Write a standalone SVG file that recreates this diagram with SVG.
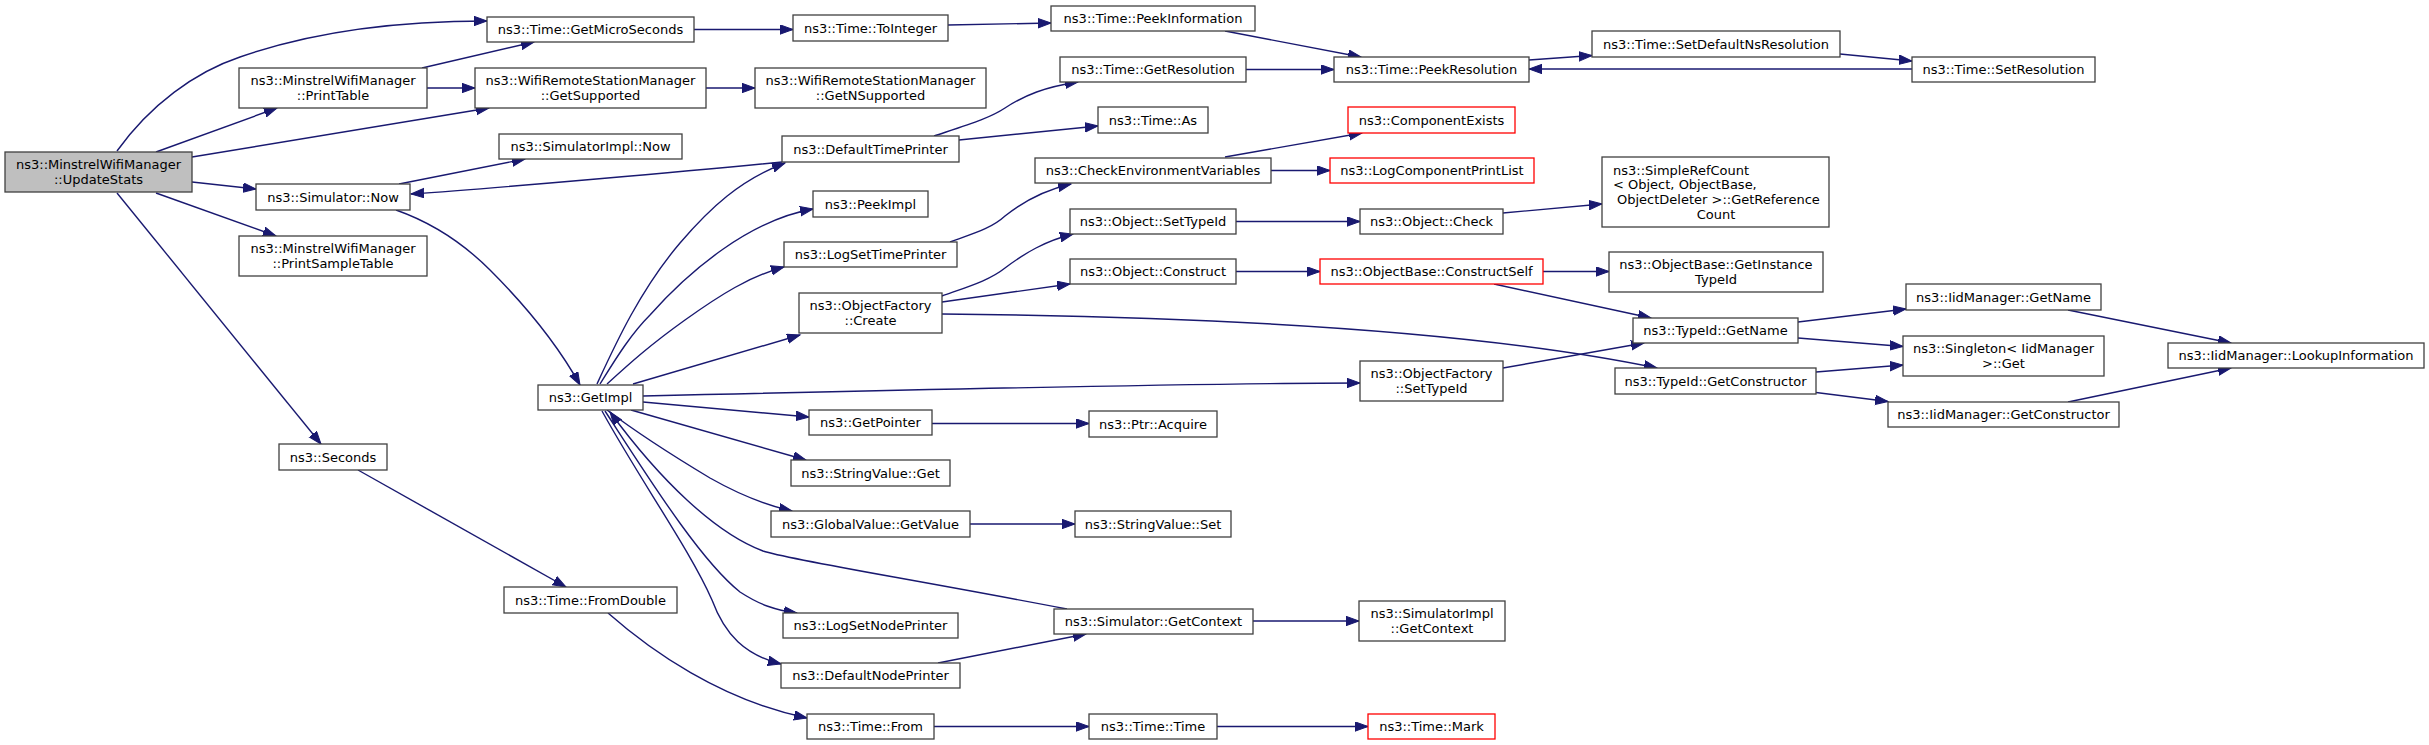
<svg xmlns="http://www.w3.org/2000/svg" width="2429" height="745" viewBox="0 0 2429 745">
<style>
.n rect{fill:#fff;stroke:#404040;stroke-width:1.3}
.n.r rect{stroke:#ff0000}
.n.root rect{fill:#bfbfbf}
text{font-family:"DejaVu Sans","Liberation Sans",sans-serif;font-size:13px;text-anchor:middle;fill:#000}
text.l{text-anchor:start}
.e path{fill:none;stroke:#191970;stroke-width:1.4;marker-end:url(#ah)}
</style>
<defs>
<marker id="ah" markerUnits="userSpaceOnUse" markerWidth="15" markerHeight="11" refX="13" refY="5" orient="auto">
<path d="M0,0.3 L13,5 L0,9.7 z" fill="#191970" stroke="#191970" stroke-width="1"/>
</marker>
</defs>
<rect width="2429" height="745" fill="#fff"/>
<g id="edges" class="e">
<path d="M117,151 C150,105 195,72 240,57 C320,29 410,21 487,21"/>
<path d="M156,152 L277,108"/>
<path d="M192,157 L489,108"/>
<path d="M192,182 L256,189"/>
<path d="M156,193 L276,236"/>
<path d="M117,193 L321,444"/>
<path d="M422,68 L534,42"/>
<path d="M427,88 L475,88"/>
<path d="M399,184 L525,159"/>
<path d="M396,210 C430,222 460,240 490,270 C520,300 555,340 580,385"/>
<path d="M782,162 C700,170 500,188 411,194"/>
<path d="M694,29.5 L793,29.5"/>
<path d="M948,25 L1051,23"/>
<path d="M1225,31 L1361,57"/>
<path d="M706,88 L755,88"/>
<path d="M934,136 C970,124 990,118 1005,108 C1025,95 1045,87 1078,82"/>
<path d="M959,140 L1098,126"/>
<path d="M1246,69.5 L1334,69.5"/>
<path d="M1529,60 L1592,55.5"/>
<path d="M1840,54 L1912,61"/>
<path d="M1912,69 L1529,69"/>
<path d="M1225,157 L1362,133"/>
<path d="M1271,170.5 L1330,170.5"/>
<path d="M950,242 C975,233 992,228 1005,216 C1025,200 1045,190 1071,184"/>
<path d="M1236,221.5 L1360,221.5"/>
<path d="M1503,213 L1602,204"/>
<path d="M942,296 C970,286 990,280 1005,268 C1025,253 1045,241 1073,234"/>
<path d="M942,302 L1070,284"/>
<path d="M942,314 C1150,316 1450,325 1657,368"/>
<path d="M1236,271.5 L1320,271.5"/>
<path d="M1543,271.5 L1609,271.5"/>
<path d="M1494,284 L1651,318"/>
<path d="M1503,368 L1644,343"/>
<path d="M1798,322 L1906,309"/>
<path d="M1798,338 L1903,346.5"/>
<path d="M1816,372 L1903,365"/>
<path d="M1816,392.5 L1888,401.5"/>
<path d="M2068,310 L2231,343"/>
<path d="M2068,402 L2231,368"/>
<path d="M597,384 C615,345 640,290 680,243 C710,208 740,180 785,163"/>
<path d="M600,384 C615,360 630,335 650,315 C690,270 750,220 813,209"/>
<path d="M607,384 C630,363 650,345 685,320 C720,295 750,276 784,267"/>
<path d="M633,384 L800,335"/>
<path d="M643,396 C900,390 1200,383 1360,383"/>
<path d="M643,402 L809,417"/>
<path d="M932,423.5 L1089,423.5"/>
<path d="M631,410 L806,460"/>
<path d="M607,410 C640,435 680,460 710,478 C740,495 765,505 792,511"/>
<path d="M970,524 L1075,524"/>
<path d="M1067,609 C900,577 790,560 763,551 C715,533 660,480 610,412"/>
<path d="M605,411 C650,480 700,560 740,592 C760,605 775,610 797,613"/>
<path d="M602,411 C640,480 690,550 712,600 C725,635 745,655 781,664"/>
<path d="M938,663 L1086,634"/>
<path d="M1253,621 L1359,621"/>
<path d="M358,470 L566,587"/>
<path d="M608,613 C650,650 720,700 807,718"/>
<path d="M934,726.5 L1089,726.5"/>
<path d="M1217,726.5 L1368,726.5"/>
</g>
<g id="n_updatestats" class="n root"><rect x="5" y="152" width="187" height="40"/><text x="98.5" y="169">ns3::MinstrelWifiManager</text><text x="98.5" y="184">::UpdateStats</text></g>
<g id="n_getmicroseconds" class="n"><rect x="487" y="17" width="207" height="25"/><text x="590.5" y="34">ns3::Time::GetMicroSeconds</text></g>
<g id="n_printtable" class="n"><rect x="239" y="68" width="188" height="40"/><text x="333" y="85">ns3::MinstrelWifiManager</text><text x="333" y="100">::PrintTable</text></g>
<g id="n_getsupported" class="n"><rect x="475" y="68" width="231" height="40"/><text x="590.5" y="85">ns3::WifiRemoteStationManager</text><text x="590.5" y="100">::GetSupported</text></g>
<g id="n_simimplnow" class="n"><rect x="499" y="134" width="183" height="25"/><text x="590.5" y="151">ns3::SimulatorImpl::Now</text></g>
<g id="n_simnow" class="n"><rect x="256" y="184" width="154" height="26"/><text x="333" y="201.5">ns3::Simulator::Now</text></g>
<g id="n_printsampletable" class="n"><rect x="239" y="236" width="188" height="40"/><text x="333" y="253">ns3::MinstrelWifiManager</text><text x="333" y="268">::PrintSampleTable</text></g>
<g id="n_seconds" class="n"><rect x="279" y="444" width="108" height="26"/><text x="333" y="461.5">ns3::Seconds</text></g>
<g id="n_getimpl" class="n"><rect x="538" y="385" width="105" height="25"/><text x="590.5" y="402">ns3::GetImpl</text></g>
<g id="n_fromdouble" class="n"><rect x="504" y="587" width="173" height="26"/><text x="590.5" y="604.5">ns3::Time::FromDouble</text></g>
<g id="n_tointeger" class="n"><rect x="793" y="15" width="155" height="26"/><text x="870.5" y="32.5">ns3::Time::ToInteger</text></g>
<g id="n_getnsupported" class="n"><rect x="755" y="68" width="231" height="40"/><text x="870.5" y="85">ns3::WifiRemoteStationManager</text><text x="870.5" y="100">::GetNSupported</text></g>
<g id="n_defaulttimeprinter" class="n"><rect x="782" y="136" width="177" height="26"/><text x="870.5" y="153.5">ns3::DefaultTimePrinter</text></g>
<g id="n_peekimpl" class="n"><rect x="813" y="191" width="115" height="26"/><text x="870.5" y="208.5">ns3::PeekImpl</text></g>
<g id="n_logsettimeprinter" class="n"><rect x="784" y="242" width="173" height="25"/><text x="870.5" y="259">ns3::LogSetTimePrinter</text></g>
<g id="n_ofcreate" class="n"><rect x="799" y="293" width="143" height="40"/><text x="870.5" y="310">ns3::ObjectFactory</text><text x="870.5" y="325">::Create</text></g>
<g id="n_getpointer" class="n"><rect x="809" y="410" width="123" height="25"/><text x="870.5" y="427">ns3::GetPointer</text></g>
<g id="n_svget" class="n"><rect x="791" y="460" width="159" height="26"/><text x="870.5" y="477.5">ns3::StringValue::Get</text></g>
<g id="n_gvgetvalue" class="n"><rect x="771" y="511" width="199" height="26"/><text x="870.5" y="528.5">ns3::GlobalValue::GetValue</text></g>
<g id="n_logsetnodeprinter" class="n"><rect x="783" y="613" width="175" height="25"/><text x="870.5" y="630">ns3::LogSetNodePrinter</text></g>
<g id="n_defaultnodeprinter" class="n"><rect x="781" y="663" width="179" height="25"/><text x="870.5" y="680">ns3::DefaultNodePrinter</text></g>
<g id="n_timefrom" class="n"><rect x="807" y="714" width="127" height="25"/><text x="870.5" y="731">ns3::Time::From</text></g>
<g id="n_peekinformation" class="n"><rect x="1051" y="6" width="204" height="25"/><text x="1153" y="23">ns3::Time::PeekInformation</text></g>
<g id="n_getresolution" class="n"><rect x="1060" y="57" width="186" height="25"/><text x="1153" y="74">ns3::Time::GetResolution</text></g>
<g id="n_timeas" class="n"><rect x="1098" y="107" width="110" height="26"/><text x="1153" y="124.5">ns3::Time::As</text></g>
<g id="n_checkenv" class="n"><rect x="1035" y="158" width="236" height="25"/><text x="1153" y="175">ns3::CheckEnvironmentVariables</text></g>
<g id="n_objsettypeid" class="n"><rect x="1070" y="209" width="166" height="25"/><text x="1153" y="226">ns3::Object::SetTypeId</text></g>
<g id="n_objconstruct" class="n"><rect x="1070" y="259" width="166" height="25"/><text x="1153" y="276">ns3::Object::Construct</text></g>
<g id="n_ptracquire" class="n"><rect x="1089" y="411" width="128" height="26"/><text x="1153" y="428.5">ns3::Ptr::Acquire</text></g>
<g id="n_svset" class="n"><rect x="1075" y="511" width="156" height="26"/><text x="1153" y="528.5">ns3::StringValue::Set</text></g>
<g id="n_simgetcontext" class="n"><rect x="1054" y="609" width="199" height="25"/><text x="1153.5" y="626">ns3::Simulator::GetContext</text></g>
<g id="n_timetime" class="n"><rect x="1089" y="714" width="128" height="25"/><text x="1153" y="731">ns3::Time::Time</text></g>
<g id="n_peekresolution" class="n"><rect x="1334" y="57" width="195" height="25"/><text x="1431.5" y="74">ns3::Time::PeekResolution</text></g>
<g id="n_componentexists" class="n r"><rect x="1348" y="107" width="167" height="26"/><text x="1431.5" y="124.5">ns3::ComponentExists</text></g>
<g id="n_logcompprintlist" class="n r"><rect x="1330" y="158" width="204" height="25"/><text x="1432" y="175">ns3::LogComponentPrintList</text></g>
<g id="n_objcheck" class="n"><rect x="1360" y="209" width="143" height="25"/><text x="1431.5" y="226">ns3::Object::Check</text></g>
<g id="n_constructself" class="n r"><rect x="1320" y="259" width="223" height="25"/><text x="1431.5" y="276">ns3::ObjectBase::ConstructSelf</text></g>
<g id="n_ofsettypeid" class="n"><rect x="1360" y="361" width="143" height="40"/><text x="1431.5" y="378">ns3::ObjectFactory</text><text x="1431.5" y="393">::SetTypeId</text></g>
<g id="n_simimplgetcontext" class="n"><rect x="1359" y="601" width="146" height="40"/><text x="1432" y="618">ns3::SimulatorImpl</text><text x="1432" y="633">::GetContext</text></g>
<g id="n_timemark" class="n r"><rect x="1368" y="714" width="127" height="25"/><text x="1431.5" y="731">ns3::Time::Mark</text></g>
<g id="n_setdefaultns" class="n"><rect x="1592" y="31" width="248" height="26"/><text x="1716" y="48.5">ns3::Time::SetDefaultNsResolution</text></g>
<g id="n_simplerefcount" class="n"><rect x="1602" y="157" width="227" height="70"/><text class="l" x="1613" y="174.5">ns3::SimpleRefCount</text><text class="l" x="1613" y="189.2">&lt; Object, ObjectBase,</text><text class="l" x="1617" y="203.9">ObjectDeleter &gt;::GetReference</text><text x="1716" y="218.6">Count</text></g>
<g id="n_getinstancetypeid" class="n"><rect x="1609" y="252" width="214" height="40"/><text x="1716" y="269">ns3::ObjectBase::GetInstance</text><text x="1716" y="284">TypeId</text></g>
<g id="n_typeidgetname" class="n"><rect x="1633" y="318" width="165" height="25"/><text x="1715.5" y="335">ns3::TypeId::GetName</text></g>
<g id="n_typeidgetconstructor" class="n"><rect x="1615" y="368" width="201" height="26"/><text x="1715.5" y="385.5">ns3::TypeId::GetConstructor</text></g>
<g id="n_setresolution" class="n"><rect x="1912" y="57" width="183" height="25"/><text x="2003.5" y="74">ns3::Time::SetResolution</text></g>
<g id="n_iidgetname" class="n"><rect x="1906" y="284" width="195" height="26"/><text x="2003.5" y="301.5">ns3::IidManager::GetName</text></g>
<g id="n_singletonget" class="n"><rect x="1903" y="336" width="201" height="40"/><text x="2003.5" y="353">ns3::Singleton&lt; IidManager</text><text x="2003.5" y="368">&gt;::Get</text></g>
<g id="n_iidgetconstructor" class="n"><rect x="1888" y="402" width="231" height="25"/><text x="2003.5" y="419">ns3::IidManager::GetConstructor</text></g>
<g id="n_lookupinformation" class="n"><rect x="2168" y="343" width="256" height="25"/><text x="2296" y="360">ns3::IidManager::LookupInformation</text></g>
</svg>
